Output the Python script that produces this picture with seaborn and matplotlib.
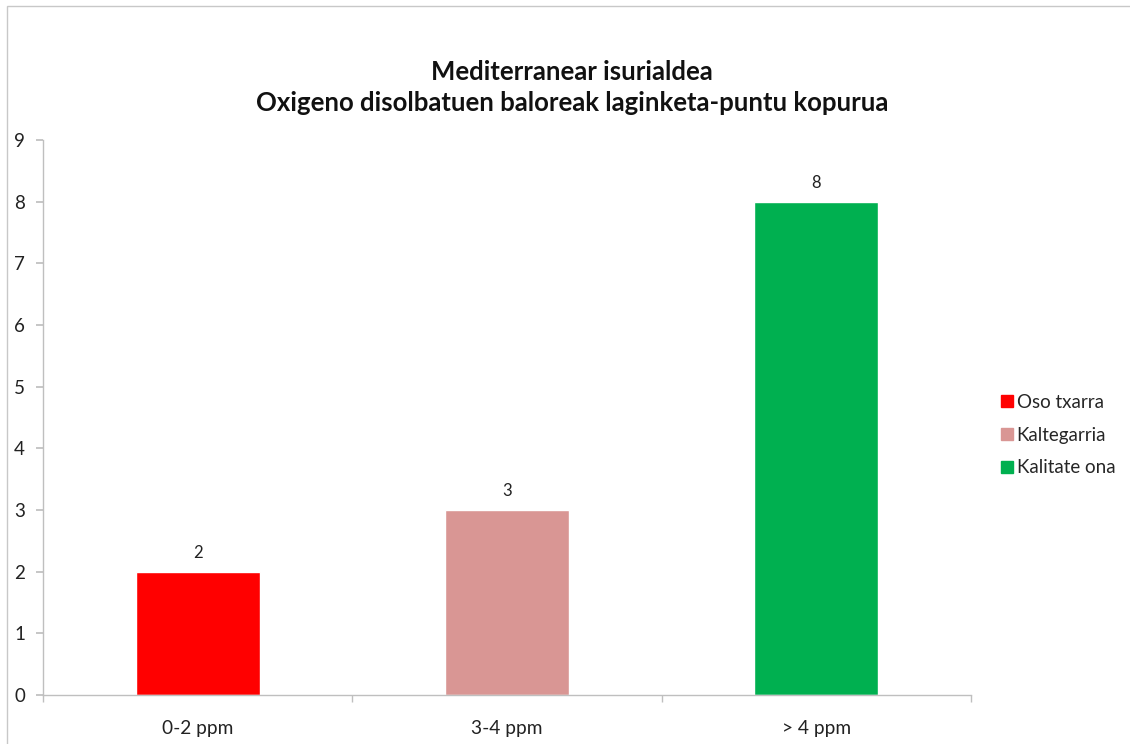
import matplotlib
matplotlib.use("Agg")
import matplotlib.pyplot as plt
import seaborn as sns
import pandas as pd
from matplotlib.patches import Rectangle
from matplotlib.lines import Line2D

categories = ["0-2 ppm", "3-4 ppm", "> 4 ppm"]
values = [2, 3, 8]
series_names = ["Oso txarra", "Kaltegarria", "Kalitate ona"]
colors = ["#FF0000", "#D99694", "#00B050"]
title_lines = ["Mediterranear isurialdea", "Oxigeno disolbatuen baloreak laginketa-puntu kopurua"]

sns.set_theme(style="white")
plt.rcParams['font.family'] = ['Lato', 'DejaVu Sans']

df = pd.DataFrame({"cat": categories, "val": values, "series": series_names})

fig = plt.figure(figsize=(11.3, 7.44), dpi=100)
ax = fig.add_axes([43/1130, 1-695/744, (971-43)/1130, (695-140)/744])

sns.barplot(data=df, x="cat", y="val", hue="series", palette=colors,
            hue_order=series_names, dodge=False, width=0.4, ax=ax,
            legend=False, saturation=1)

ax.set_ylim(0, 9)
ax.set_xlim(-0.5, 2.5)
ax.set_yticks(range(0, 10))
ax.set_xlabel("")
ax.set_ylabel("")
axis_col = "#BFBFBF"
for s in ["top", "right"]:
    ax.spines[s].set_visible(False)
for s in ["left", "bottom"]:
    ax.spines[s].set_color(axis_col)
    ax.spines[s].set_linewidth(1.0)
ax.tick_params(axis="y", left=True, length=5, color=axis_col, labelsize=13.5, pad=8, labelcolor="#222222")
ax.set_xticks([0, 1, 2])
ax.set_xticklabels(categories)
ax.tick_params(axis="x", bottom=False, labelsize=13.8, pad=12, labelcolor="#222222")
ax.set_xticks([-0.5, 0.5, 1.5, 2.5], minor=True)
ax.tick_params(axis="x", which="minor", bottom=True, length=5, color=axis_col)

for i, v in enumerate(values):
    ax.text(i, v + 0.18, str(v), ha="center", va="bottom", fontsize=12, color="#222222")

handles = [Line2D([0], [0], marker="s", linestyle="", markersize=9,
                  markerfacecolor=c, markeredgecolor=c) for c in colors]
fig.legend(handles, series_names, loc="center left", bbox_to_anchor=(981/1130, 1-435/744),
           frameon=False, fontsize=13.5, handletextpad=0.0, labelspacing=0.85, handlelength=1.0)

fig.text(572/1130, 1-72/744, title_lines[0], ha="center", va="center", fontsize=18.5, fontweight="bold", color="#111111")
fig.text(572/1130, 1-103/744, title_lines[1], ha="center", va="center", fontsize=18.5, fontweight="bold", color="#111111")

fig.patches.append(Rectangle((7/1130, -0.1), 1.2, 1 - 6/744 + 0.1, transform=fig.transFigure,
                             fill=False, edgecolor="#C8C8C8", linewidth=1.0))

fig.savefig("out.png", dpi=100)
